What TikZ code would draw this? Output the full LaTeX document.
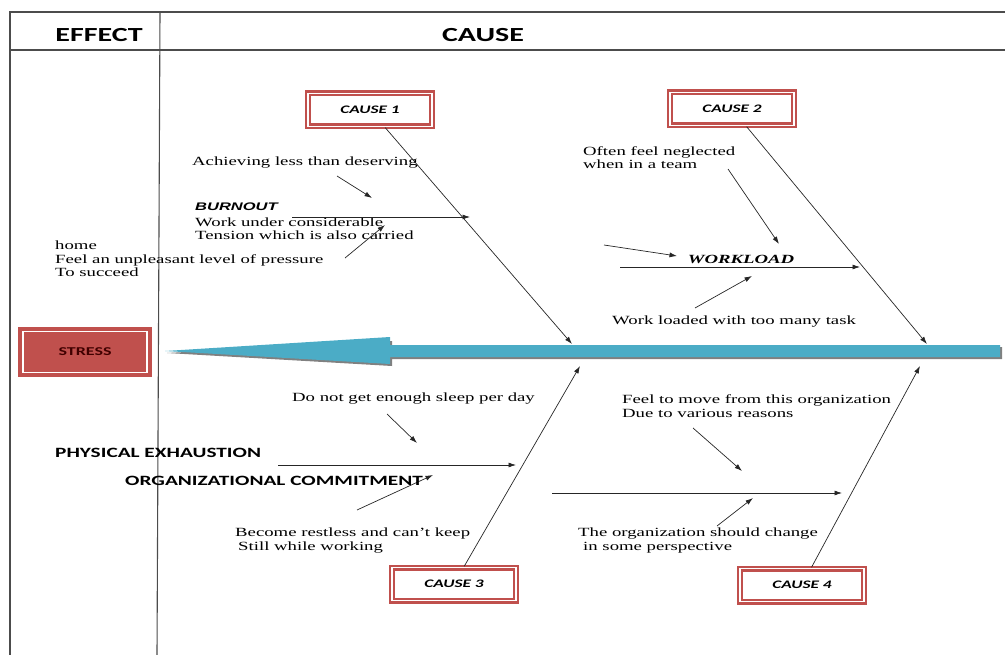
\documentclass[tikz,border=0pt]{standalone}
\usepackage{fontspec}
\setmainfont{Liberation Serif}[FakeStretch=1.5]
\newfontfamily\calibri{Carlito}[FakeStretch=1.5]
\newfontfamily\arialf{Liberation Sans}[FakeStretch=1.5]
\usepackage{tikz}
\usetikzlibrary{arrows.meta, positioning}

\definecolor{boxred}{RGB}{192,80,77}
\definecolor{spineblue}{RGB}{75,172,198}

\begin{document}
\begin{tikzpicture}[x=1pt, y=-1pt,
	frame/.style={draw=black!70, line width=1.1pt},
	hdr/.style={inner sep=0pt, font=\calibri\bfseries\fontsize{20}{21}\selectfont},
	causebox/.style={draw=boxred, line width=2.4pt, double=white, double distance=1.2pt,
		fill=white, minimum width=124pt, minimum height=33pt, inner sep=0pt,
		font=\calibri\bfseries\itshape\fontsize{11.5}{12}\selectfont},
	stressbox/.style={draw=boxred, fill=boxred, line width=4pt, double=white, double distance=1.5pt,
		minimum width=124pt, minimum height=41pt, inner sep=0pt, text=black!75!red,
		font=\calibri\bfseries\fontsize{12}{13}\selectfont},
	bone/.style={draw=black!85, line width=0.7pt, -{Latex[length=7.5pt,width=5pt]}},
	notetxt/.style={anchor=west, inner sep=0pt, align=left, font=\fontsize{12.5}{13.5}\selectfont},
	catlabel/.style={anchor=west, inner sep=0pt, font=\calibri\bfseries\fontsize{14.2}{15}\selectfont}]
	\useasboundingbox (0,0) rectangle (1007,655);
	
	% table frame
	\draw[frame] (10,655) -- (10,12) -- (1005,12);
	\draw[frame] (10,50) -- (1005,50);
	\draw[frame] (160,12) -- (157,655);
	\node[hdr] (effect) at (99,35) {EFFECT};
	\node[hdr] (causehd) at (483,35) {CAUSE};
	
	% spine
	\fill[black!50] (167,353) -- (392,341) -- (392,347) -- (1002,347) -- (1002,359) -- (392,359) -- (392,366) -- cycle;
	\fill[spineblue] (165,351) -- (390,337) -- (390,345) -- (1000,345) -- (1000,357) -- (390,357) -- (390,364) -- cycle;
	
	\node[stressbox] (stress) at (85,352) {STRESS};
	\node[causebox] (c1) at (370,110) {CAUSE 1};
	\node[causebox] (c2) at (732,109) {CAUSE 2};
	\node[causebox] (c3) at (454,584) {CAUSE 3};
	\node[causebox] (c4) at (802,585) {CAUSE 4};
	
	\coordinate (c1e) at (572,344);
	\coordinate (c2e) at (927,344);
	\coordinate (c3e) at (580,366);
	\coordinate (c4e) at (920,366);
	\draw[bone] (c1) -- (c1e);
	\draw[bone] (c2) -- (c2e);
	\draw[bone] (c3) -- (c3e);
	\draw[bone] (c4) -- (c4e);
	
	% cause 1 : burnout
	\node[notetxt] (achieve) at (192,163) {Achieving less than deserving};
	\node[anchor=west, inner sep=0pt, font=\arialf\bfseries\itshape\fontsize{11}{12}\selectfont] (burnout) at (195,207) {BURNOUT};
	\node[notetxt] (tension) at (195,228.5) {Work under considerable\\Tension which is also carried};
	\node[notetxt] (pressure) at (55,259) {home\\Feel an unpleasant level of pressure\\To succeed};
	\coordinate (burnS) at (292,217);
	\coordinate (burnE) at (470,217);
	\coordinate (a1s) at (337,176);
	\coordinate (a1e) at (372,198);
	\coordinate (a2s) at (345,258);
	\coordinate (a2e) at (385,225);
	\draw[bone] (burnS) -- (burnE);
	\draw[bone] (a1s) -- (a1e);
	\draw[bone] (a2s) -- (a2e);
	
	% cause 2 : workload
	\node[notetxt] (neglect) at (583,157.5) {Often feel neglected\\when in a team};
	\node[inner sep=0pt, font=\bfseries\itshape\fontsize{12.5}{13}\selectfont] (workload) at (741,259) {WORKLOAD};
	\node[notetxt] (loaded) at (612,322) {Work loaded with too many task};
	\coordinate (workS) at (620,267);
	\coordinate (workE) at (860,267);
	\coordinate (b1s) at (604,245);
	\coordinate (b1e) at (677,256);
	\coordinate (b2s) at (728,169);
	\coordinate (b2e) at (779,244);
	\coordinate (b3s) at (695,308);
	\coordinate (b3e) at (752,276);
	\draw[bone] (workS) -- (workE);
	\draw[bone] (b1s) -- (b1e);
	\draw[bone] (b2s) -- (b2e);
	\draw[bone] (b3s) -- (b3e);
	
	% cause 3 : physical exhaustion
	\node[catlabel] (physical) at (55,453) {PHYSICAL EXHAUSTION};
	\node[notetxt] (sleep) at (292,399) {Do not get enough sleep per day};
	\node[notetxt] (restless) at (235,540.5) {Become restless and can’t keep\\\hspace{3pt}Still while working};
	\coordinate (physS) at (278,465);
	\coordinate (physE) at (516,465);
	\coordinate (d1s) at (387,414);
	\coordinate (d1e) at (417,443);
	\coordinate (d2s) at (357,510);
	\coordinate (d2e) at (433,475);
	\draw[bone] (physS) -- (physE);
	\draw[bone] (d1s) -- (d1e);
	\draw[bone] (d2s) -- (d2e);
	
	% cause 4 : organizational commitment
	\node[catlabel] (orgcom) at (125,481) {ORGANIZATIONAL COMMITMENT};
	\node[notetxt] (move) at (622,406) {Feel to move from this organization\\Due to various reasons};
	\node[notetxt] (change) at (578,540.5) {The organization should change\\\hspace{5pt}in some perspective};
	\coordinate (orgS) at (552,493);
	\coordinate (orgE) at (842,493);
	\coordinate (e1s) at (693,428);
	\coordinate (e1e) at (742,471);
	\coordinate (e2s) at (717,526);
	\coordinate (e2e) at (753,498);
	\draw[bone] (orgS) -- (orgE);
	\draw[bone] (e1s) -- (e1e);
	\draw[bone] (e2s) -- (e2e);
\end{tikzpicture}
\end{document}
